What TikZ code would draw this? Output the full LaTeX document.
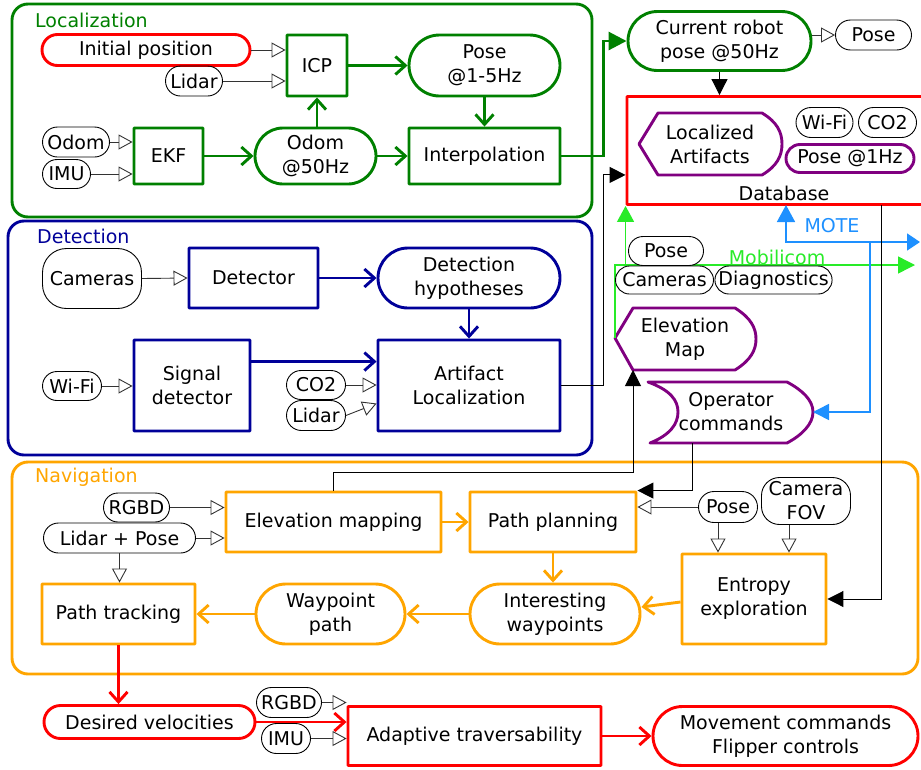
\documentclass[tikz,border=0pt]{standalone}
\usepackage{fontspec}
\setmainfont{DejaVu Sans}
\usetikzlibrary{arrows.meta,shapes.misc,calc}
\definecolor{cLoc}{RGB}{0,128,0}
\definecolor{cDet}{RGB}{0,0,153}
\definecolor{cNav}{RGB}{255,165,0}
\definecolor{cRed}{RGB}{255,0,0}
\definecolor{cPur}{RGB}{128,0,128}
\definecolor{cMob}{RGB}{40,235,40}
\definecolor{cMote}{RGB}{30,144,255}
\newcommand\fsz{\fontsize{19}{24}\selectfont}
\begin{document}
\begin{tikzpicture}[x=1pt,y=-1pt,
  every node/.style={font=\fsz, align=center, inner sep=0pt},
  bx/.style 2 args={draw, rounded corners=0.6pt, line width=2.9pt, minimum width=#1, minimum height=#2},
  st/.style 2 args={rounded rectangle, draw, line width=2.9pt, minimum width=#1, minimum height=#2},
  tg/.style 2 args={rounded rectangle, draw, line width=0.9pt, minimum width=#1, minimum height=#2},
  rtg/.style={rectangle, rounded corners=#1, draw, line width=0.9pt},
  grp/.style={rounded corners=16pt, line width=2.9pt},
  tagar/.style={draw=black!80, line width=0.9pt, -{Triangle[open, length=14pt, width=15pt]}},
  barb/.style={line width=2.9pt, -{Straight Barb[length=10pt, width=18pt]}},
  blkar/.style={draw=black, line width=1pt, -{Triangle[length=16pt, width=16pt]}},
  mob/.style={draw=cMob, line width=1.4pt},
  mote/.style={draw=cMote, line width=1.6pt},
  shp/.style={draw=cPur, line width=2.9pt, line join=round}
]
\useasboundingbox (0,0) rectangle (921,769);
\clip (0,0) rectangle (921,769);

% ---------- groups ----------
\draw[grp, cLoc] (12,4) rectangle (592,217);
\node[anchor=west, text=cLoc] (glLoc) at (35,20) {Localization};
\draw[grp, cDet] (8,221) rectangle (592,455);
\node[anchor=west, text=cDet] (glDet) at (37,236) {Detection};
\draw[grp, cNav] (12,462) rectangle (918,674);
\node[anchor=west, text=cNav] (glNav) at (35,477) {Navigation};

% ---------- Localization ----------
\node[st={208}{31}, draw=cRed] (ini) at (146,50) {Initial position};
\node[tg={57}{30}] (lidarA) at (194,81) {Lidar};
\node[bx={60}{61}, draw=cLoc] (icp) at (317,65.5) {ICP};
\node[st={151}{61}, draw=cLoc] (pose15) at (484.5,65.5) {Pose\\@1-5Hz};
\node[tg={67}{30}] (odomT) at (76,142) {Odom};
\node[tg={48}{29}] (imuT) at (66.5,174) {IMU};
\node[bx={69}{56}, draw=cLoc] (ekf) at (168.5,156) {EKF};
\node[st={121}{56}, draw=cLoc] (odom50) at (315.5,156) {Odom\\@50Hz};
\node[bx={151}{56}, draw=cLoc] (interp) at (484.5,156) {Interpolation};

\draw[tagar] (ini.east) -- (ini.east -| icp.west);
\draw[tagar] (lidarA.east) -- (lidarA.east -| icp.west);
\draw[barb, cLoc] (icp.east) -- (pose15.west);
\draw[barb, cLoc] (pose15.south) -- (interp.north);
\draw[barb, cLoc] (icp.south |- odom50.north) -- (icp.south);
\draw[barb, cLoc] (ekf.east) -- (odom50.west);
\draw[barb, cLoc] (odom50.east) -- (interp.west);
\draw[tagar] (odomT.east) -- (odomT.east -| ekf.west);
\draw[tagar] (imuT.east) -- (imuT.east -| ekf.west);

% ---------- current pose / database ----------
\node[st={183}{59}, draw=cLoc] (cur) at (719.5,41) {Current robot\\pose @50Hz};
\node[tg={76}{30}] (poseC) at (873.5,35) {Pose};
\draw[line width=2.9pt, cLoc, -{Triangle[length=18pt, width=18pt]}] (interp.east) -- ++(42,0) |- (cur.west);
\draw[tagar] (poseC.west -| cur.east) -- (poseC.west);

\node[draw=cRed, rounded corners=0.6pt, line width=2.9pt, minimum width=313, minimum height=108] (db) at (783.5,150.5) {};
\node (dbl) at (784,193) {Database};
\draw[blkar] (cur.south) -- (cur.south |- db.north);

\draw[shp] (639,144) -- (658,113) -- (762,113) .. controls (777,122) and (782,132) .. (782,144)
  .. controls (782,156) and (777,166) .. (762,175) -- (658,175) -- cycle;
\node (locart) at (710,144) {Localized\\Artifacts};
\node[tg={57}{30}] (wifiD) at (824.5,122.5) {Wi-Fi};
\node[tg={58}{30}] (co2D) at (887.5,122.5) {CO2};
\node[st={128}{28}, draw=cPur] (pose1) at (850,158.5) {Pose @1Hz};

% ---------- Detection ----------
\node[rtg=24pt, minimum width=99, minimum height=60] (camD) at (92,278.5) {Cameras};
\node[bx={129}{60}, draw=cDet] (detr) at (253.5,278) {Detector};
\node[st={182}{60}, draw=cDet] (hyp) at (469,278) {Detection\\hypotheses};
\node[bx={116}{91}, draw=cDet] (sig) at (192,385.5) {Signal\\detector};
\node[bx={182}{91}, draw=cDet] (artl) at (469,385.5) {Artifact\\Localization};
\node[tg={59}{29}] (wifiT) at (72,386) {Wi-Fi};
\node[tg={59}{29}] (co2T) at (316,385) {CO2};
\node[tg={59}{30}] (lidarT) at (316,415.5) {Lidar};

\draw[tagar] (camD.east) -- (detr.west);
\draw[barb, cDet] (detr.east) -- (hyp.west);
\draw[barb, cDet] (hyp.south) -- (artl.north);
\draw[barb, cDet] ($(sig.north east)+(0,23)$) coordinate (s1) -- (s1 -| artl.west);
\draw[tagar] (wifiT.east) -- (wifiT.east -| sig.west);
\draw[tagar] (co2T.east) -- (co2T.east -| artl.west);
\draw[tagar] (lidarT.east) -- ($(artl.west)+(0,18)$);
\draw[blkar] (artl.east) -- ++(42,0) |- ($(db.south west)+(0,-31)$);

% ---------- Mobilicom / MOTE ----------
\draw[shp] (615,338) -- (633,308) -- (735,308) .. controls (751,318) and (756,328) .. (756,339)
  .. controls (756,350) and (751,360) .. (735,370) -- (633,370) -- cycle;
\node (elevmap) at (685,339) {Elevation\\Map};
\draw[shp] (648,382) -- (787,382) .. controls (802,390) and (813,400) .. (813,412)
  .. controls (813,424) and (802,435) .. (787,443) -- (650,443)
  .. controls (670,435) and (678,424) .. (678,412) .. controls (678,400) and (670,390) .. (648,382) -- cycle;
\node (opcmd) at (731,412) {Operator\\commands};

\coordinate (emL) at (615,338);
\coordinate (emB) at (633,370);
\coordinate (opR) at (813,412);
\coordinate (opB) at (692,443);
\coordinate (mobE) at (915,265);
\coordinate (moteB) at (786,205);
\coordinate (moteE) at (920,242);
\coordinate (moteJ) at (870,242);
\coordinate (dbE) at (881,205);

\draw[mob, -{Triangle[length=17pt, width=17pt]}] (emL) |- (mobE);
\draw[mob, -{Triangle[length=16pt, width=17pt]}] (db.south west |- mobE) -- (db.south west);
\node[tg={75}{29}, fill=white] (mobPose) at (666,251) {Pose};
\node[tg={98}{28}, fill=white] (mobCam) at (664.5,280) {Cameras};
\node[tg={114}{28}, fill=white] (mobDiag) at (773.5,280) {Diagnostics};
\node[text=cMob] (mobl) at (777,257) {Mobilicom};

\draw[mote, {Triangle[length=17pt, width=18pt]}-{Triangle[length=13pt, width=17pt]}] (moteB) |- (moteE);
\draw[mote, -{Triangle[length=16pt, width=16pt]}] (moteJ) |- (opR);
\node[text=cMote] (motel) at (832,226) {MOTE};

% ---------- Navigation ----------
\node[tg={66}{29}] (rgbdN) at (136.5,507.5) {RGBD};
\node[tg={152}{30}] (lpN) at (119.5,538) {Lidar + Pose};
\node[bx={215}{60}, draw=cNav] (elev) at (333.5,522) {Elevation mapping};
\node[bx={166}{60}, draw=cNav] (pplan) at (553,522) {Path planning};
\node[tg={59}{31}] (poseN) at (728,507) {Pose};
\node[rtg=18pt, minimum width=89, minimum height=47] (camfov) at (806,501) {Camera\\FOV};
\node[bx={144}{90}, draw=cNav] (entr) at (754,599) {Entropy\\exploration};
\node[st={170}{60}, draw=cNav] (intw) at (555,614) {Interesting\\waypoints};
\node[st={149}{60}, draw=cNav] (wpath) at (330.5,614) {Waypoint\\path};
\node[bx={153}{60}, draw=cNav] (ptrack) at (118.5,614) {Path tracking};

\draw[tagar] (rgbdN.east) -- (rgbdN.east -| elev.west);
\draw[tagar] (lpN.east) -- (lpN.east -| elev.west);
\draw[tagar] (lpN.south) -- (lpN.south |- ptrack.north);
\draw[barb, cNav] (elev.east) -- (pplan.west);
\draw[tagar] (poseN.west) -- (poseN.west -| pplan.east);
\draw[tagar] ($(poseN.south)+(-10,0)$) coordinate (p1) -- (p1 |- entr.north);
\draw[tagar] ($(camfov.south)+(-17,0)$) coordinate (c1) -- (c1 |- entr.north);
\draw[barb, cNav] (pplan.south) -- (pplan.south |- intw.north);
\draw[barb, cNav] ($(entr.west)+(0,3)$) -- ($(intw.east)+(0,-7)$);
\draw[barb, cNav] (intw.west) -- (wpath.east);
\draw[barb, cNav] (wpath.west) -- (ptrack.east);

\draw[blkar] (elev.north) -- ++(0,-18) -| (emB);
\draw[blkar] (opB) |- (pplan.north east);
\draw[blkar] (dbE) |- (entr.east);

% ---------- bottom ----------
\node[st={211}{33}, draw=cRed] (desv) at (149.5,722) {Desired velocities};
\node[tg={65}{30}] (rgbdB) at (289,702.5) {RGBD};
\node[tg={49}{30}] (imuB) at (286,738.5) {IMU};
\node[bx={253}{59}, draw=cRed] (adapt) at (474.5,736) {Adaptive traversability};
\node[st={265}{59}, draw=cRed] (move) at (785.5,736) {Movement commands\\Flipper controls};

\draw[barb, cRed] (ptrack.south) -- (ptrack.south |- desv.north);
\draw[barb, cRed] (desv.east) -- (desv.east -| adapt.west);
\draw[tagar] (rgbdB.east) -- (rgbdB.east -| adapt.west);
\draw[tagar] (imuB.east) -- (imuB.east -| adapt.west);
\draw[barb, cRed] (adapt.east) -- (move.west);
\end{tikzpicture}
\end{document}
